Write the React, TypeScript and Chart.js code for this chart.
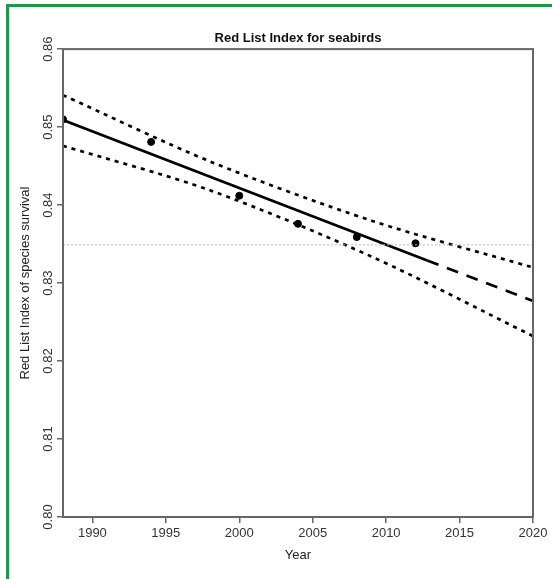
import React, { useEffect, useRef } from "react";
import { Chart, registerables } from "chart.js";

Chart.register(...registerables);

const pointYears = [1988, 1994, 2000, 2004, 2008, 2012];
const pointValues = [0.851, 0.8481, 0.8412, 0.8376, 0.8359, 0.8351];

const ciYears = [1988, 1998, 2009, 2020];
const upperCI = [0.8541, 0.8456, 0.838, 0.832];
const lowerCI = [0.8476, 0.8419, 0.8334, 0.8232];

const trendYears = [1988, 2012.8];
const trendValues = [0.8509, 0.8329];

const projYears = [2012.8, 2020];
const projValues = [0.8329, 0.8277];

const refYears = [1988, 2020];
const refValues = [0.8349, 0.8349];

const xTicks = [1990, 1995, 2000, 2005, 2010, 2015, 2020];
const yTicks = [0.8, 0.81, 0.82, 0.83, 0.84, 0.85, 0.86];

const zip = (xs: number[], ys: number[]) => xs.map((x, i) => ({ x, y: ys[i] }));

const FONT = "'Liberation Sans', Arial, sans-serif";

const boxPlugin = {
  id: "boxPlugin",
  afterDatasetsDraw(chart: any) {
    const { ctx, chartArea } = chart;
    ctx.save();
    ctx.strokeStyle = "#666";
    ctx.lineWidth = 2;
    ctx.strokeRect(chartArea.left, chartArea.top, chartArea.right - chartArea.left, chartArea.bottom - chartArea.top);
    ctx.restore();
  },
};

export default function App() {
  const ref = useRef<HTMLCanvasElement | null>(null);
  useEffect(() => {
    if (!ref.current) return;
    const chart = new Chart(ref.current, {
      type: "line",
      data: {
        datasets: [
          {
            data: zip(refYears, refValues),
            borderColor: "#bbbbbb",
            borderWidth: 1,
            borderDash: [2, 2],
            pointRadius: 0,
            fill: false,
          },
          {
            data: zip(ciYears, upperCI),
            borderColor: "#000",
            borderWidth: 2.7,
            borderDash: [4, 5],
            pointRadius: 0,
            tension: 0.3,
            fill: false,
          },
          {
            data: zip(ciYears, lowerCI),
            borderColor: "#000",
            borderWidth: 2.7,
            borderDash: [4, 5],
            pointRadius: 0,
            tension: 0.3,
            fill: false,
          },
          {
            data: zip(trendYears, trendValues),
            borderColor: "#000",
            borderWidth: 2.6,
            pointRadius: 0,
            fill: false,
          },
          {
            data: zip(projYears, projValues),
            borderColor: "#000",
            borderWidth: 2.6,
            borderDash: [12, 9],
            pointRadius: 0,
            fill: false,
          },
          {
            data: zip(pointYears, pointValues),
            showLine: false,
            pointRadius: 3.5,
            pointBackgroundColor: "#000",
            pointBorderColor: "#000",
            borderColor: "#000",
          },
        ],
      },
      options: {
        animation: false,
        responsive: false,
        layout: { padding: { left: 0, right: 19, top: 0, bottom: 0 } },
        plugins: {
          legend: { display: false },
          tooltip: { enabled: false },
          title: {
            display: true,
            text: "Red List Index for seabirds",
            fullSize: false,
            color: "#111",
            font: { family: FONT, size: 13, weight: "bold" },
            padding: { top: 31, bottom: 2.5 },
          },
        },
        scales: {
          x: {
            type: "linear",
            min: 1988,
            max: 2020,
            afterBuildTicks: (scale: any) => {
              scale.ticks = xTicks.map((v) => ({ value: v }));
            },
            afterFit: (scale: any) => {
              scale.height = 62;
            },
            grid: { display: true, drawOnChartArea: false, drawTicks: true, tickLength: 6, color: "#666", lineWidth: 1.5 },
            border: { display: false },
            ticks: {
              color: "#333",
              font: { family: FONT, size: 13 },
              padding: 3,
              maxRotation: 0,
              minRotation: 0,
              callback: (v: any) => String(v),
            },
            title: {
              display: true,
              text: "Year",
              color: "#222",
              font: { family: FONT, size: 13 },
              padding: { top: 4, bottom: 16 },
            },
          },
          y: {
            type: "linear",
            min: 0.8,
            max: 0.86,
            afterBuildTicks: (scale: any) => {
              scale.ticks = yTicks.map((v) => ({ value: v }));
            },
            afterFit: (scale: any) => {
              scale.width = 63;
            },
            grid: { display: true, drawOnChartArea: false, drawTicks: true, tickLength: 6, color: "#666", lineWidth: 1.5 },
            border: { display: false },
            ticks: {
              color: "#333",
              font: { family: FONT, size: 13 },
              padding: -4,
              crossAlign: "center",
              minRotation: 90,
              maxRotation: 90,
              callback: (v: any) => Number(v).toFixed(2),
            },
            title: {
              display: true,
              text: "Red List Index of species survival",
              color: "#222",
              font: { family: FONT, size: 13 },
              padding: { top: 18, bottom: 0 },
            },
          },
        },
      },
      plugins: [boxPlugin],
    } as any);
    return () => chart.destroy();
  }, []);

  return (
    <div style={{ position: "fixed", left: 0, top: 0, width: 552, height: 579, overflow: "hidden", background: "#fff" }}>
      <canvas ref={ref} width={552} height={579} style={{ position: "absolute", left: 0, top: 0, width: 552, height: 579 }} />
      <div
        style={{
          position: "absolute",
          left: 6,
          top: 4,
          width: 600,
          height: 600,
          border: "3px solid #1a9a46",
          pointerEvents: "none",
        }}
      />
    </div>
  );
}
